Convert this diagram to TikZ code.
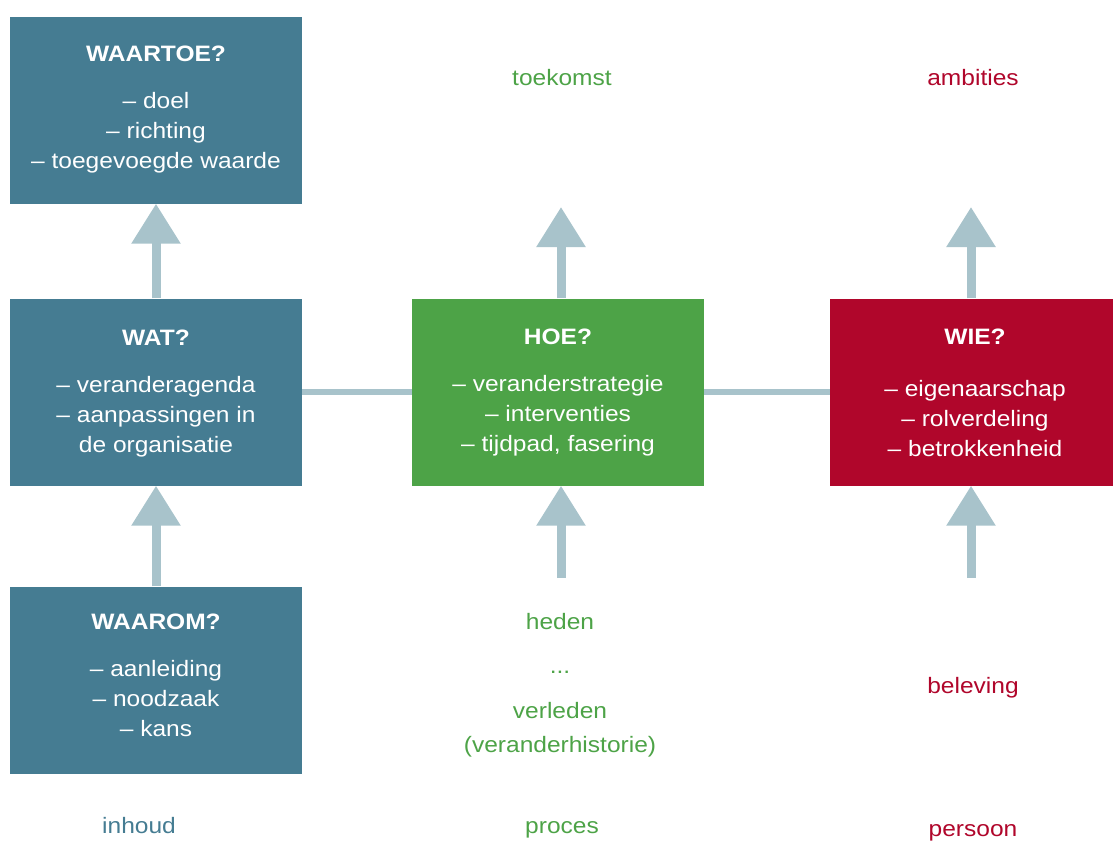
\documentclass[tikz,border=0pt]{standalone}
\usepackage{fontspec}
\setmainfont{Liberation Sans}[FakeStretch=1.1]
\usetikzlibrary{arrows.meta}
\definecolor{cteal}{HTML}{457C92}
\definecolor{cgreen}{HTML}{4DA347}
\definecolor{cred}{HTML}{B0062B}
\definecolor{carrow}{HTML}{A8C3CB}
\begin{document}
\begin{tikzpicture}[x=1pt,y=-1pt,
  box/.style={minimum width=292pt,minimum height=187pt,inner sep=0pt},
  boxtext/.style={inner sep=0pt,text=white,align=center,font=\fontsize{22.3}{30}\selectfont},
  lbl/.style={anchor=base,font=\fontsize{22.3}{30}\selectfont},
  upar/.style={draw=carrow,line width=9pt,-{Triangle[width=47pt,length=40pt]}},
  conn/.style={draw=carrow,line width=6pt}]
\useasboundingbox (0,0) rectangle (1113,841);
\clip (0,0) rectangle (1113,841);
% boxes
\node[box,fill=cteal] (waartoe) at (156,110) {};
\node[box,fill=cteal] (wat) at (156,392) {};
\node[box,fill=cteal] (waarom) at (156,680) {};
\node[box,fill=cgreen] (hoe) at (558,392) {};
\node[box,fill=cred] (wie) at (976,392) {};
% box texts
\node[boxtext] (waartoetext) at (waartoe.center) {{\bfseries WAARTOE?}\\[17pt]– doel\\– richting\\– toegevoegde waarde};
\node[boxtext] (wattext) at ([yshift=-2pt]wat.center) {{\bfseries WAT?}\\[17pt]– veranderagenda\\– aanpassingen in\\de organisatie};
\node[boxtext] (waaromtext) at ([yshift=5pt]waarom.center) {{\bfseries WAAROM?}\\[17pt]– aanleiding\\– noodzaak\\– kans};
\node[boxtext] (hoetext) at ([yshift=-1pt]hoe.center) {{\bfseries HOE?}\\[17pt]– veranderstrategie\\– interventies\\– tijdpad, fasering};
\node[boxtext] (wietext) at ([xshift=-1pt,yshift=-1pt]wie.center) {{\bfseries WIE?}\\[22pt]– eigenaarschap\\– rolverdeling\\– betrokkenheid};
% labels
\node[lbl,text=cgreen] (toekomst) at (562,85) {toekomst};
\node[lbl,text=cred] (ambities) at (973,85) {ambities};
\node[lbl,text=cgreen] (heden) at (560,629) {heden};
\node[lbl,text=cgreen] (dots) at (560,673) {...};
\node[lbl,text=cgreen] (verleden) at (560,718) {verleden};
\node[lbl,text=cgreen] (historie) at (560,752) {(veranderhistorie)};
\node[lbl,text=cred] (beleving) at (973,693) {beleving};
\node[lbl,text=cteal] (inhoud) at (139,833) {inhoud};
\node[lbl,text=cgreen] (proces) at (562,833) {proces};
\node[lbl,text=cred] (persoon) at (973,836) {persoon};
% connectors
\draw[conn] (wat.east) -- (hoe.west);
\draw[conn] (hoe.east) -- (wie.west);
% arrows
\coordinate (mtop) at (561,207);
\coordinate (mbot) at (561,578);
\coordinate (rtop) at (971,207);
\coordinate (rbot) at (971,578);
\draw[upar] (wat.north) -- (waartoe.south);
\draw[upar] (waarom.north) -- (wat.south);
\draw[upar] (hoe.north -| mtop) -- (mtop);
\draw[upar] (mbot) -- (hoe.south -| mbot);
\draw[upar] (wie.north -| rtop) -- (rtop);
\draw[upar] (rbot) -- (wie.south -| rbot);
\end{tikzpicture}
\end{document}
